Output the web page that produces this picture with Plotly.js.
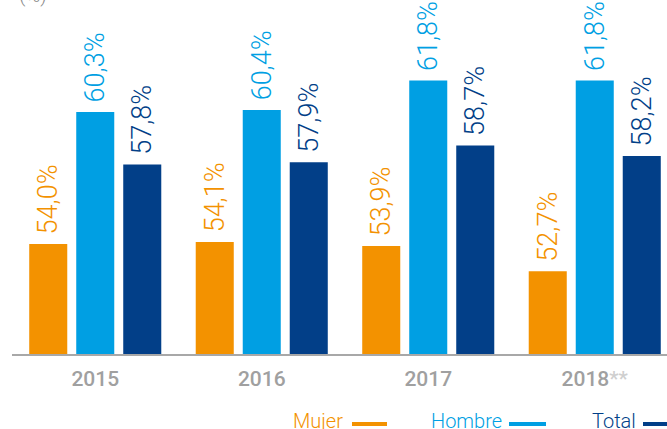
<!DOCTYPE html>
<html>
<head>
<meta charset="utf-8">
<script src="https://cdn.plot.ly/plotly-3.0.1.min.js"></script>
<style>html,body{margin:0;padding:0;overflow:hidden;background:#fff}#chart{width:667px;height:429px}</style>
</head>
<body>
<div id="chart"></div>
<script>
var years = ['2015', '2016', '2017', '2018'];
var tickLabels = ['2015', '2016', '2017', "2018<span style='color:#cfcfcf'>**</span>"];
var mujer = [54.0, 54.1, 53.9, 52.7];
var hombre = [60.3, 60.4, 61.8, 61.8];
var total = [57.8, 57.9, 58.7, 58.2];
var seriesNames = ['Mujer', 'Hombre', 'Total'];
var colors = ['#F39200', '#009FE3', '#023F88'];

var L = 12, W = 667, H = 429, B = 75;
var plotW = W - L, plotH = H - B;
function px(x) { return (x - L) / plotW; }
function py(y) { return (plotH - y) / plotH; }

function barTrace(name, vals, color) {
  return {
    type: 'bar', name: name, x: years, y: vals,
    marker: {color: color},
    texttemplate: '\u00a0%{y:.1f}%', textposition: 'outside', textangle: -90,
    textfont: {family: 'Roboto', size: 27, color: color, weight: 300},
    cliponaxis: false, constraintext: 'none', hoverinfo: 'skip'
  };
}

var data = [
  barTrace(seriesNames[0], mujer, colors[0]),
  barTrace(seriesNames[1], hombre, colors[1]),
  barTrace(seriesNames[2], total, colors[2])
];

var legendItems = [
  {textRight: 345, lineL: 352, lineR: 387},
  {textRight: 504, lineL: 509, lineR: 546},
  {textRight: 638, lineL: 643, lineR: 680}
];
var annotations = [{
  xref: 'paper', yref: 'paper', x: px(33), y: py(-5), xanchor: 'center', yanchor: 'middle',
  text: '(%)', showarrow: false, font: {family: 'Roboto', size: 20, color: '#8a8a8a', weight: 300}
}];
var shapes = [];
legendItems.forEach(function (it, i) {
  annotations.push({
    xref: 'paper', yref: 'paper', x: px(it.textRight), y: py(421), xanchor: 'right', yanchor: 'middle',
    text: seriesNames[i], showarrow: false, xshift: 0,
    font: {family: 'Roboto', size: 20, color: colors[i], weight: 300}
  });
  shapes.push({
    type: 'line', xref: 'paper', yref: 'paper', x0: px(it.lineL), x1: px(it.lineR), y0: py(424), y1: py(424),
    line: {color: colors[i], width: 4}
  });
});

var layout = {
  width: W, height: H,
  margin: {l: L, r: 0, t: 0, b: B},
  paper_bgcolor: '#fff', plot_bgcolor: '#fff',
  separators: ',.',
  barmode: 'group', bargap: 0.153, bargroupgap: 0.191,
  showlegend: false,
  xaxis: {
    type: 'category', range: [-0.5, -0.5 + plotW / 166.5],
    tickvals: years, ticktext: tickLabels,
    showline: true, linecolor: '#a8a8a8', linewidth: 2,
    showgrid: false, zeroline: false, ticks: '', ticklabelstandoff: 5,
    tickfont: {family: 'Roboto', size: 21, color: '#a0a0a0', weight: 500}
  },
  yaxis: {
    range: [48.75, 48.75 + plotH / 20.95],
    visible: false, showgrid: false, zeroline: false
  },
  annotations: annotations,
  shapes: shapes
};

Plotly.newPlot('chart', data, layout, {displayModeBar: false, staticPlot: true});
</script>
</body>
</html>
